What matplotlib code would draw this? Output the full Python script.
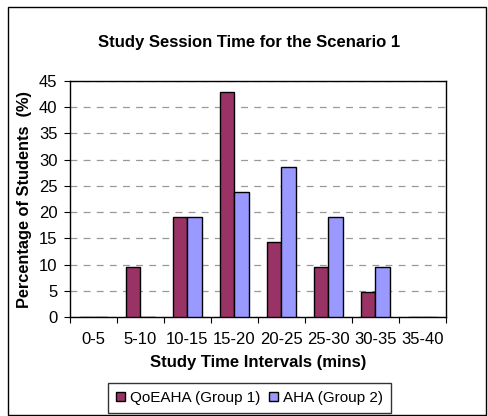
import numpy as np
import matplotlib
matplotlib.use('Agg')
import matplotlib.pyplot as plt
from matplotlib.patches import Rectangle

plt.rcParams['font.family'] = ['Liberation Sans', 'DejaVu Sans']

intervals = ['0-5', '5-10', '10-15', '15-20', '20-25', '25-30', '30-35', '35-40']
group1 = [0, 9.52, 19.05, 42.86, 14.29, 9.52, 4.76, 0]     # QoEAHA
group2 = [0, 0, 19.05, 23.81, 28.57, 19.05, 9.52, 0]       # AHA
series_names = ['QoEAHA (Group 1)', 'AHA (Group 2)']
colors = ['#993366', '#9999ff']

W, H = 489, 416
fig = plt.figure(figsize=(W / 100, H / 100), dpi=100)
ax = fig.add_axes([70 / W, 1 - 317 / H, 376 / W, 236 / H])

x = np.arange(len(intervals))
w = 0.3
ax.bar(x - w / 2, group1, w, color=colors[0], edgecolor='black', linewidth=1,
       label=series_names[0], zorder=3)
ax.bar(x + w / 2, group2, w, color=colors[1], edgecolor='black', linewidth=1,
       label=series_names[1], zorder=3)

ax.set_xlim(-0.5, len(intervals) - 0.5)
ax.set_ylim(0, 45)
ax.set_yticks(np.arange(0, 46, 5))
ax.yaxis.grid(True, color='#999999', linestyle=(0, (5.5, 5)), linewidth=0.9)
ax.set_axisbelow(True)

# ticks at category boundaries, labels at centers
ax.set_xticks(np.arange(-0.5, len(intervals) - 0.4, 1))
ax.set_xticklabels([])
ax.set_xticks(x, minor=True)
ax.set_xticklabels(intervals, minor=True)
ax.tick_params(axis='x', which='major', length=4, direction='out')
ax.tick_params(axis='x', which='minor', length=0, pad=11, labelsize=12)
ax.tick_params(axis='y', length=4, labelsize=12, pad=5)

for s in ax.spines.values():
    s.set_color('black')
    s.set_linewidth(1)

fig.text(249 / W, 1 - 42 / H, 'Study Session Time for the Scenario 1',
         fontsize=12, fontweight='bold', ha='center', va='center')
fig.text(258 / W, 1 - 362 / H, 'Study Time Intervals (mins)',
         fontsize=12, fontweight='bold', ha='center', va='center')
fig.text(24.5 / W, 1 - 200 / H, 'Percentage of Students  (%)', rotation=90,
         fontsize=11.8, fontweight='bold', ha='center', va='center')

leg = fig.legend(loc='center', bbox_to_anchor=(249.5 / W, 1 - 398 / H),
                 ncol=2, fontsize=11, frameon=True, fancybox=False,
                 handlelength=0.6, handleheight=0.6, handletextpad=0.3,
                 columnspacing=0.6, borderpad=0.55)
leg.get_frame().set_edgecolor('black')
leg.get_frame().set_linewidth(1)

fig.patches.append(Rectangle((8 / W, 1 / H), 478 / W, 408 / H,
                             transform=fig.transFigure, fill=False,
                             edgecolor='black', linewidth=1))

fig.savefig('out.png', dpi=100)
